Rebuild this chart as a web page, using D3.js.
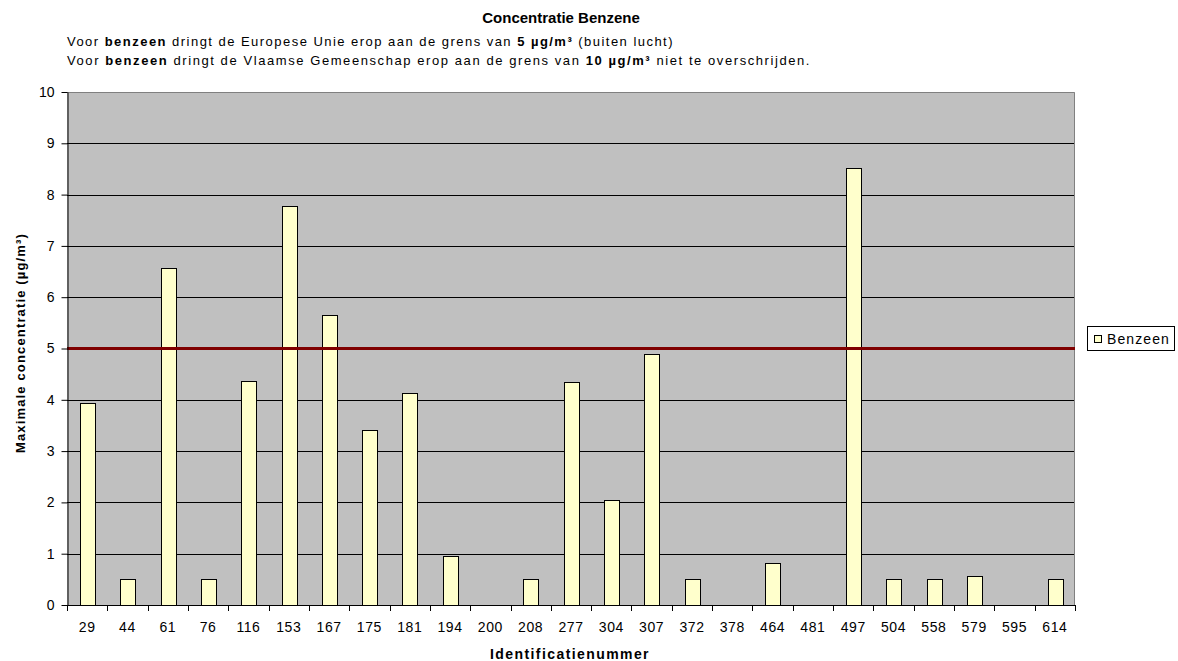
<!DOCTYPE html>
<html><head><meta charset="utf-8">
<script src="https://cdn.jsdelivr.net/npm/d3@7"></script>
<style>body{margin:0;background:#fff}svg{display:block;font-family:"Liberation Sans",Arial,sans-serif}</style>
</head><body>
<svg id="c" width="1178" height="661"></svg>
<script>
const categories = ["29","44","61","76","116","153","167","175","181","194","200","208","277","304","307","372","378","464","481","497","504","558","579","595","614"];
const benzeen = [3.94,0.5,6.57,0.5,4.37,7.78,5.65,3.41,4.13,0.95,0,0.5,4.35,2.05,4.89,0.5,0,0.82,0,8.52,0.5,0.5,0.57,0,0.5];
const limitValue = 5;
const yTicks = [0,1,2,3,4,5,6,7,8,9,10];
const title = "Concentratie Benzene";
const xTitle = "Identificatienummer";
const yTitle = "Maximale concentratie (µg/m³)";
const seriesName = "Benzeen";

const svg = d3.select("#c");
const L=67,R=1075,T=92,B=605;
const x = d3.scaleBand().domain(categories).range([L,R]);
const y = d3.scaleLinear().domain([0,10]).range([B,T]);

function fit(sel, target){
  const w = sel.node().getComputedTextLength();
  const n = sel.text().length;
  sel.attr("letter-spacing", ((target - w)/n).toFixed(3));
}

svg.append("rect").attr("x",L).attr("y",T).attr("width",R-L).attr("height",B-T).attr("fill","#c0c0c0");
svg.append("g").selectAll("line").data(yTicks.filter(d=>d>0&&d<10)).join("line")
  .attr("x1",L).attr("x2",R).attr("y1",d=>Math.round(y(d))+0.5).attr("y2",d=>Math.round(y(d))+0.5)
  .attr("stroke","#000").attr("stroke-width",1);
svg.append("path").attr("d",`M${L},${T+0.5}H${R-0.5}V${B}`).attr("fill","none").attr("stroke","#808080");
const bw = x.bandwidth()*0.36;
svg.append("g").selectAll("rect").data(categories.map((c,i)=>({c,v:benzeen[i]})).filter(d=>d.v>0)).join("rect")
  .attr("x",d=>Math.round(x(d.c)+x.bandwidth()/2-bw/2)+0.5)
  .attr("y",d=>Math.round(y(d.v))+0.5)
  .attr("width",Math.round(bw))
  .attr("height",d=>Math.round(B)-Math.round(y(d.v)))
  .attr("fill","#ffffcc").attr("stroke","#000").attr("stroke-width",1);
svg.append("line").attr("x1",L).attr("x2",R).attr("y1",y(limitValue)).attr("y2",y(limitValue))
  .attr("stroke","#800000").attr("stroke-width",3);
const yAxis = svg.append("g").attr("transform",`translate(${L+0.5},0)`)
  .call(d3.axisLeft(y).tickValues(yTicks).tickSize(6).tickPadding(7).tickSizeOuter(0));
const xAxis = svg.append("g").attr("transform",`translate(0,${B+0.5})`)
  .call(d3.axisBottom(x).tickSize(0).tickPadding(17).tickSizeOuter(0));
svg.append("g").selectAll("line").data(d3.range(categories.length+1)).join("line")
  .attr("x1",i=>Math.round(L+i*x.step())+0.5).attr("x2",i=>Math.round(L+i*x.step())+0.5)
  .attr("y1",B).attr("y2",B+6).attr("stroke","#000");
[yAxis,xAxis].forEach(a=>{a.selectAll("path").attr("stroke","#000");a.selectAll("line").attr("stroke","#000");
  a.selectAll("text").attr("font-size",14).attr("font-family","Liberation Sans, Arial, sans-serif").attr("fill","#000");});
xAxis.selectAll("text").attr("letter-spacing",0.6);
xAxis.select(".domain").attr("d",`M${L},0H${R}`);

svg.append("text").attr("x",561).attr("y",23).attr("text-anchor","middle").attr("font-weight","bold").attr("font-size",15).text(title);
function rich(yPos, parts, target){
  const t = svg.append("text").attr("x",67).attr("y",yPos).attr("font-size",13);
  parts.forEach(p=>t.append("tspan").attr("font-weight",p[1]?"bold":"normal").text(p[0]));
  fit(t, target);
}
rich(46,[["Voor ",0],["benzeen",1],[" dringt de Europese Unie erop aan de grens van ",0],["5 µg/m³",1],[" (buiten lucht)",0]], 607);
rich(65,[["Voor ",0],["benzeen",1],[" dringt de Vlaamse Gemeenschap erop aan de grens van ",0],["10 µg/m³",1],[" niet te overschrijden.",0]], 744);
const xt = svg.append("text").attr("x",490).attr("y",659).attr("font-weight","bold").attr("font-size",14).text(xTitle);
fit(xt,160);
const yt = svg.append("text").attr("transform",`translate(25,453) rotate(-90)`).attr("font-weight","bold").attr("font-size",13).text(yTitle);
fit(yt,220);
const lg = svg.append("g");
lg.append("rect").attr("x",1087.5).attr("y",326.5).attr("width",87).attr("height",24).attr("fill","#fff").attr("stroke","#000");
lg.append("rect").attr("x",1094.5).attr("y",335.5).attr("width",7).attr("height",7).attr("fill","#ffffcc").attr("stroke","#000");
const lt = lg.append("text").attr("x",1107).attr("y",344).attr("font-size",14).text(seriesName);
fit(lt,63);
</script>
</body></html>
